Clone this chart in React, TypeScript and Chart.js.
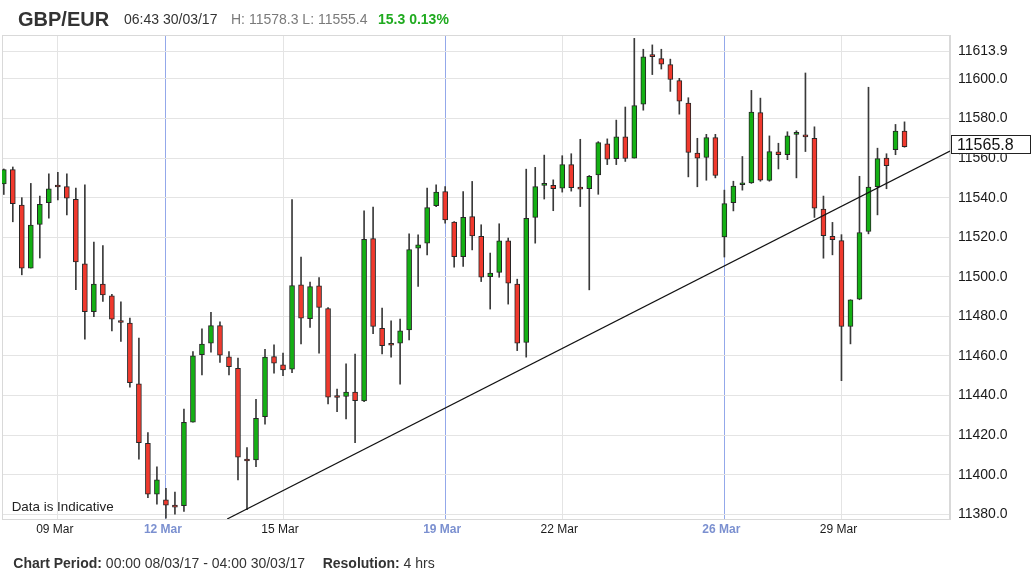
import React, { useEffect, useRef } from 'react';
import { Chart, registerables } from 'chart.js';

Chart.register(...registerables);

// ---- data (4-hour candles, 08/03/17 00:00 -> 30/03/17 04:00, weekends compressed) ----
const opens = [
  11547.0, 11554.2, 11536.2, 11504.4, 11526.5, 11537.5, 11545.6, 11545.6, 11539.2, 11506.5,
  11482.4, 11496.3, 11490.4, 11477.9, 11476.6, 11445.9, 11415.9, 11390.1, 11387.3, 11384.6,
  11384.3, 11426.5, 11460.6, 11466.5, 11475.3, 11459.5, 11453.8, 11407.8, 11407.5, 11429.3,
  11459.7, 11455.5, 11453.3, 11495.9, 11478.9, 11495.4, 11484.0, 11439.2, 11439.5, 11441.8,
  11437.3, 11519.3, 11473.9, 11465.6, 11466.5, 11473.2, 11514.5, 11517.0, 11535.9, 11543.1,
  11527.6, 11510.2, 11530.4, 11520.4, 11500.1, 11502.2, 11518.2, 11496.3, 11466.8, 11530.0,
  11546.2, 11546.2, 11544.8, 11556.7, 11544.5, 11544.5, 11551.5, 11567.2, 11559.7, 11570.7,
  11560.0, 11587.2, 11611.5, 11610.3, 11607.2, 11599.2, 11587.8, 11562.5, 11560.3, 11570.3,
  11520.1, 11537.5, 11546.5, 11547.5, 11583.0, 11548.7, 11563.2, 11561.7, 11572.0, 11571.2,
  11570.0, 11534.2, 11520.5, 11518.3, 11474.9, 11488.7, 11522.9, 11545.5, 11560.0, 11564.2,
  11573.7,
];
const highs = [
  11554.5, 11555.5, 11540.0, 11547.2, 11540.8, 11552.0, 11552.8, 11552.0, 11544.8, 11546.5,
  11517.5, 11515.8, 11491.2, 11487.4, 11479.1, 11469.0, 11421.3, 11404.0, 11393.1, 11391.2,
  11433.1, 11462.2, 11473.7, 11482.1, 11477.3, 11462.2, 11458.9, 11413.7, 11438.1, 11463.4,
  11465.6, 11461.4, 11539.0, 11510.0, 11497.3, 11499.6, 11484.5, 11443.3, 11456.0, 11461.0,
  11533.3, 11535.2, 11484.2, 11477.7, 11478.6, 11521.7, 11521.2, 11544.8, 11546.5, 11545.6,
  11527.9, 11543.1, 11548.2, 11526.3, 11512.0, 11526.8, 11519.6, 11498.8, 11554.4, 11555.3,
  11561.5, 11549.0, 11561.2, 11562.2, 11569.5, 11551.2, 11568.3, 11569.7, 11579.2, 11585.8,
  11620.5, 11615.0, 11617.2, 11615.0, 11610.0, 11600.3, 11590.5, 11570.0, 11572.0, 11572.0,
  11543.8, 11548.3, 11560.8, 11594.2, 11590.3, 11571.2, 11567.5, 11573.3, 11573.8, 11603.0,
  11575.8, 11540.8, 11527.5, 11521.3, 11488.4, 11550.8, 11595.8, 11565.0, 11562.2, 11577.0,
  11578.3,
];
const lows = [
  11541.6, 11527.8, 11501.0, 11504.4, 11509.5, 11529.6, 11538.8, 11531.3, 11493.5, 11468.5,
  11479.9, 11487.5, 11472.6, 11467.3, 11444.2, 11407.8, 11388.4, 11385.1, 11378.0, 11380.1,
  11381.4, 11426.5, 11450.4, 11461.9, 11456.7, 11450.4, 11397.4, 11382.3, 11404.1, 11425.5,
  11451.3, 11450.0, 11451.6, 11466.1, 11474.4, 11461.4, 11435.8, 11431.9, 11428.2, 11416.2,
  11436.9, 11471.2, 11461.0, 11459.4, 11445.7, 11468.1, 11495.1, 11511.1, 11535.5, 11527.1,
  11504.9, 11505.2, 11513.6, 11497.6, 11483.7, 11499.8, 11486.2, 11462.7, 11459.4, 11517.0,
  11539.3, 11533.4, 11542.8, 11543.3, 11535.5, 11493.4, 11541.7, 11556.7, 11556.7, 11558.3,
  11560.0, 11584.2, 11602.2, 11605.0, 11593.7, 11582.2, 11550.5, 11545.5, 11548.8, 11550.0,
  11510.0, 11533.3, 11543.8, 11547.2, 11548.3, 11548.3, 11554.5, 11559.2, 11550.0, 11563.3,
  11530.0, 11509.4, 11511.1, 11447.5, 11466.1, 11488.4, 11521.7, 11531.3, 11544.5, 11561.7,
  11565.5,
];
const closes = [
  11554.2, 11537.0, 11504.4, 11526.2, 11536.6, 11544.5, 11545.4, 11539.8, 11507.5, 11482.4,
  11496.3, 11490.8, 11478.6, 11476.9, 11446.5, 11416.2, 11390.1, 11397.4, 11384.6, 11383.6,
  11426.5, 11460.1, 11466.0, 11475.3, 11460.4, 11454.6, 11408.8, 11406.9, 11428.5, 11459.4,
  11456.3, 11453.0, 11495.6, 11479.1, 11495.1, 11484.5, 11439.2, 11439.0, 11441.8, 11437.4,
  11519.0, 11474.9, 11465.2, 11465.4, 11472.7, 11513.8, 11516.2, 11535.0, 11542.8, 11528.8,
  11510.2, 11530.1, 11520.7, 11499.8, 11501.9, 11518.2, 11496.8, 11466.5, 11529.5, 11545.6,
  11546.5, 11544.5, 11556.7, 11545.0, 11544.3, 11550.8, 11567.8, 11559.5, 11570.7, 11559.8,
  11586.5, 11611.2, 11611.3, 11607.5, 11599.7, 11588.7, 11562.8, 11560.0, 11570.3, 11551.2,
  11537.0, 11545.8, 11547.5, 11583.3, 11548.8, 11563.3, 11561.7, 11571.2, 11572.1, 11570.7,
  11534.7, 11520.8, 11518.8, 11474.9, 11488.4, 11522.4, 11545.3, 11559.7, 11556.2, 11573.7,
  11565.8,
];

// x-axis tick positions (candle index) and labels; weekStart = Sunday label (blue)
const xTickIdx = [6, 18, 31, 49, 62, 80, 93];
const xTickLabels = ['09 Mar', '12 Mar', '15 Mar', '19 Mar', '22 Mar', '26 Mar', '29 Mar'];
const xTickWeekStart = [false, true, false, true, false, true, false];

// y-axis ticks
const yTickValues = [
  11380, 11400, 11420, 11440, 11460, 11480, 11500, 11520, 11540, 11560, 11580, 11600, 11613.9,
];

// trend line (candle index, price)
const trendX = [24.8, 105.05];
const trendY = [11377.6, 11563.6];

const FONT = '"Liberation Sans", Arial, Helvetica, sans-serif';
const GREEN = '#14b014';
const RED = '#f0392d';
const BLUE = '#7b90d0';

export default function App() {
  const canvasRef = useRef<HTMLCanvasElement | null>(null);

  useEffect(() => {
    const canvas = canvasRef.current;
    if (!canvas) return;

    const wicks = highs.map((h, i) => ({ x: i, y: [lows[i], h] }));
    const bodies = opens.map((o, i) => ({
      x: i,
      y: [Math.min(o, closes[i]), Math.max(o, closes[i])],
    }));
    const bodyColors = opens.map((o, i) => (closes[i] >= o ? GREEN : RED));
    const trend = trendX.map((x, i) => ({ x, y: trendY[i] }));
    const lastPrice = closes[closes.length - 1];

    const framePlugin = {
      id: 'frame',
      beforeDatasetsDraw(chart: any) {
        const { ctx, chartArea } = chart;
        ctx.save();
        ctx.strokeStyle = '#d9d9d9';
        ctx.lineWidth = 1;
        ctx.strokeRect(chartArea.left + 0.5, chartArea.top + 0.5, chartArea.right - chartArea.left - 1, chartArea.bottom - chartArea.top);
        ctx.restore();
      },
    };

    const pricePlugin = {
      id: 'priceBox',
      afterDraw(chart: any) {
        const { ctx, chartArea, scales } = chart;
        const y = scales.y.getPixelForValue(lastPrice) - 2;
        const x0 = chartArea.right + 1;
        const x1 = 1031;
        ctx.save();
        ctx.fillStyle = '#ffffff';
        ctx.fillRect(x0, y - 9.5, x1 - x0, 19);
        ctx.strokeStyle = '#222';
        ctx.lineWidth = 1;
        ctx.strokeRect(x0 + 0.5, Math.round(y - 9.5) + 0.5, x1 - x0 - 1, 18);
        ctx.fillStyle = '#111';
        ctx.font = `16px ${FONT}`;
        ctx.textBaseline = 'middle';
        ctx.textAlign = 'left';
        ctx.fillText(lastPrice.toFixed(1), x0 + 6, y + 0.5);
        ctx.restore();
      },
    };

    const chart = new Chart(canvas, {
      type: 'bar',
      data: {
        datasets: [
          {
            type: 'line',
            data: trend,
            borderColor: '#111',
            borderWidth: 1.2,
            pointRadius: 0,
            fill: false,
            order: 0,
          } as any,
          {
            type: 'bar',
            data: bodies as any,
            backgroundColor: bodyColors,
            borderColor: '#262626',
            borderWidth: 1,
            borderSkipped: false,
            barThickness: 5,
            minBarLength: 2,
            grouped: false,
            clip: 0,
            order: 1,
          } as any,
          {
            type: 'bar',
            data: wicks as any,
            backgroundColor: '#3a3a3a',
            borderWidth: 0,
            barThickness: 1,
            grouped: false,
            clip: 0,
            order: 2,
          } as any,
        ],
      },
      options: {
        animation: false,
        responsive: false,
        maintainAspectRatio: false,
        events: [],
        layout: { padding: { top: 35, left: 2, right: 0, bottom: 0 } },
        plugins: {
          legend: { display: false },
          tooltip: { enabled: false },
          title: { display: false },
        },
        scales: {
          x: {
            type: 'linear',
            min: -0.2,
            max: 105.05,
            bounds: 'data',
            offset: false,
            grid: {
              offset: false,
              drawTicks: false,
              lineWidth: 1,
              color: (ctx: any) => (xTickWeekStart[ctx.index] ? '#93a8ea' : '#e4e4e4'),
            },
            border: { display: true, color: '#d9d9d9' },
            ticks: {
              autoSkip: false,
              maxRotation: 0,
              padding: 3,
              labelOffset: -3,
              color: (ctx: any) => (xTickWeekStart[ctx.index] ? BLUE : '#1a1a1a'),
              font: (ctx: any) => ({
                family: FONT,
                size: 12,
                weight: xTickWeekStart[ctx.index] ? 'bold' : 'normal',
              }),
              callback: (_v: any, index: number) => xTickLabels[index],
            },
            afterBuildTicks: (scale: any) => {
              scale.ticks = xTickIdx.map((v) => ({ value: v }));
            },
            afterFit: (scale: any) => {
              scale.height = 54;
            },
          } as any,
          y: {
            type: 'linear',
            position: 'right',
            min: 11377.6,
            max: 11622.2,
            grid: { drawTicks: false, color: '#e4e4e4', lineWidth: 1 },
            border: { display: true, color: '#d9d9d9' },
            ticks: {
              padding: 8,
              color: '#1a1a1a',
              font: { family: FONT, size: 14 },
              callback: (v: any) => Number(v).toFixed(1),
            },
            afterBuildTicks: (scale: any) => {
              scale.ticks = yTickValues.map((v) => ({ value: v }));
            },
            afterFit: (scale: any) => {
              scale.width = 84;
            },
          } as any,
        },
      },
      plugins: [framePlugin, pricePlugin],
    });

    return () => chart.destroy();
  }, []);

  const abs = (left: number, top: number, size: number, extra: React.CSSProperties = {}): React.CSSProperties => ({
    position: 'absolute',
    left,
    top,
    fontSize: size,
    lineHeight: `${size}px`,
    fontFamily: FONT,
    whiteSpace: 'nowrap',
    margin: 0,
    ...extra,
  });

  return (
    <div style={{ position: 'absolute', left: 0, top: 0, width: 1034, height: 573, background: '#fff', overflow: 'hidden' }}>
      <canvas ref={canvasRef} width={1034} height={573} style={{ position: 'absolute', left: 0, top: 0, width: 1034, height: 573, display: 'block' }} />
      <div style={abs(18, 9.1, 20, { fontWeight: 'bold', color: '#333' })}>GBP/EUR</div>
      <div style={abs(124, 11.5, 14, { color: '#333' })}>06:43 30/03/17</div>
      <div style={abs(231, 11.5, 14, { color: '#7a7a7a' })}>H: 11578.3 L: 11555.4</div>
      <div style={abs(378, 11.5, 14, { color: '#1faa1f', fontWeight: 'bold' })}>15.3 0.13%</div>
      <div style={abs(11.7, 499.5, 13.4, { color: '#222' })}>Data is Indicative</div>
      <div style={abs(13.3, 555.5, 14, { color: '#333' })}>
        <b>Chart Period:</b> 00:00 08/03/17 - 04:00 30/03/17
      </div>
      <div style={abs(322.7, 555.5, 14, { color: '#333' })}>
        <b>Resolution:</b> 4 hrs
      </div>
    </div>
  );
}
